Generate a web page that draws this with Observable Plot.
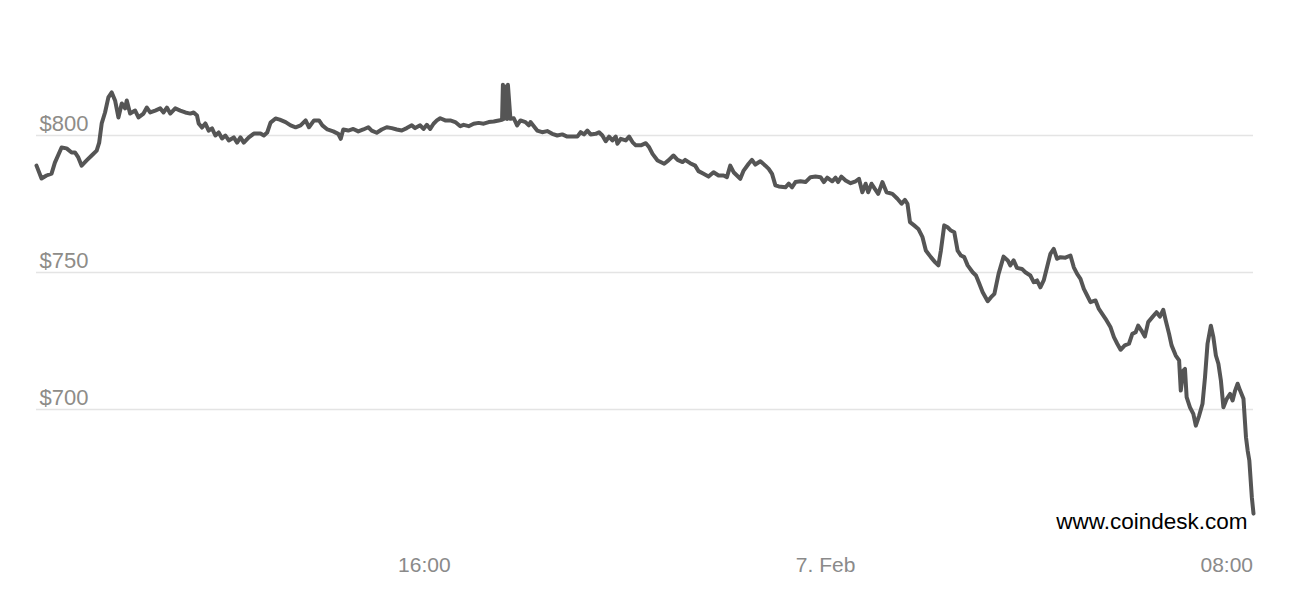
<!DOCTYPE html>
<html>
<head>
<meta charset="utf-8">
<script src="https://cdn.jsdelivr.net/npm/d3@7"></script>
<script src="https://cdn.jsdelivr.net/npm/@observablehq/plot@0.6"></script>
<style>
  html, body { margin: 0; padding: 0; background: #fff; }
  #chart svg { display: block; }
</style>
</head>
<body>
<div id="chart"></div>
<script>
// Bitcoin price (USD), 6–7 Feb 2014 (times in UTC)
const feb6Times = [
  "08:16","08:22","08:28","08:34","08:38","08:46","08:52","08:58","09:02","09:06",
  "09:10","09:16","09:22","09:28","09:31","09:34","09:38","09:42","09:46","09:50",
  "09:54","09:58","10:02","10:04","10:08","10:14","10:18","10:24","10:28","10:32",
  "10:38","10:44","10:48","10:52","10:56","11:02","11:08","11:14","11:20","11:24",
  "11:28","11:30","11:34","11:38","11:42","11:46","11:50","11:54","11:58","12:02",
  "12:06","12:12","12:16","12:20","12:24","12:30","12:36","12:44","12:48","12:52",
  "12:56","13:02","13:07","13:14","13:20","13:26","13:32","13:38","13:42","13:48",
  "13:54","13:58","14:04","14:11","14:17","14:20","14:23","14:29","14:35","14:41",
  "14:47","14:53","14:57","15:03","15:09","15:15","15:21","15:27","15:33","15:39",
  "15:45","15:49","15:55","15:59","16:03","16:07","16:11","16:15","16:19","16:25",
  "16:31","16:37","16:43","16:47","16:53","16:59","17:05","17:11","17:17","17:23",
  "17:29","17:33","17:34","17:35","17:36","17:37","17:38","17:39","17:40","17:43",
  "17:47","17:51","17:55","18:01","18:05","18:07","18:15","18:21","18:27","18:33",
  "18:39","18:45","18:51","18:57","19:03","19:07","19:11","19:15","19:19","19:25",
  "19:29","19:33","19:37","19:41","19:45","19:49","19:51","19:55","20:01","20:05",
  "20:09","20:13","20:19","20:25","20:29","20:33","20:39","20:47","20:52","20:58",
  "21:03","21:09","21:12","21:18","21:24","21:28","21:34","21:40","21:46","21:52",
  "21:58","22:02","22:06","22:10","22:14","22:18","22:22","22:28","22:32","22:36",
  "22:42","22:48","22:52","22:56","23:00","23:04","23:12","23:16","23:20","23:24",
  "23:30","23:36","23:42","23:48","23:54","23:58"
];
const feb6Prices = [
  789.0,784.3,785.4,786.1,790.1,795.6,795.3,793.8,793.8,792.0,
  789.0,790.9,792.7,794.5,797.4,804.4,808.4,813.9,815.7,812.8,
  806.6,811.7,809.9,812.8,808.0,809.1,806.6,808.0,810.2,808.4,
  809.1,809.9,808.4,810.2,808.0,809.9,809.1,808.4,808.0,808.4,
  807.3,804.4,802.9,804.4,801.8,802.6,800.0,801.1,798.9,800.0,
  798.2,799.3,797.4,799.3,797.4,799.3,800.7,800.7,800.0,801.1,
  804.7,806.2,805.8,804.9,803.7,803.0,803.7,805.5,803.0,805.5,
  805.5,803.7,802.2,801.5,800.6,798.8,802.2,801.8,802.4,801.5,
  802.2,803.0,801.8,801.0,802.2,803.0,802.7,802.2,801.8,802.7,
  803.7,802.7,803.7,802.4,803.9,802.4,804.3,805.5,806.3,805.5,
  805.5,804.9,803.4,803.9,803.4,804.3,804.6,804.3,804.9,805.1,
  805.5,805.7,818.5,806.0,818.0,806.5,817.0,806.0,818.5,806.1,
  806.3,803.7,805.5,804.9,803.7,804.9,801.8,801.2,801.6,800.6,
  800.0,800.4,799.6,799.6,799.6,801.2,800.4,801.8,800.4,800.6,
  801.2,800.0,797.9,799.6,798.2,799.6,797.0,798.8,798.2,799.6,
  797.6,796.4,796.4,797.2,795.7,793.3,790.9,789.7,790.9,792.7,
  791.1,790.3,791.1,789.9,789.0,787.0,786.0,785.0,786.6,785.4,
  785.4,784.8,789.0,786.6,785.4,784.2,787.2,789.7,791.1,789.4,
  790.6,789.0,787.8,786.0,781.8,781.4,781.1,782.4,781.1,783.0,
  783.3,783.0,784.8,785.0,784.8,783.0
];
const feb7Times = [
  "00:02","00:08","00:12","00:15","00:19","00:24","00:30","00:36","00:40","00:44",
  "00:48","00:51","00:55","00:59","01:03","01:08","01:13","01:20","01:26","01:31",
  "01:35","01:38","01:41","01:46","01:51","01:56","02:00","02:06","02:11","02:15",
  "02:18","02:22","02:26","02:30","02:34","02:38","02:42","02:46","02:50","02:56",
  "03:00","03:04","03:08","03:14","03:18","03:22","03:27","03:33","03:38","03:41",
  "03:45","03:49","03:55","03:59","04:05","04:09","04:13","04:17","04:21","04:25",
  "04:29","04:33","04:37","04:41","04:47","04:53","04:57","05:01","05:05","05:09",
  "05:13","05:17","05:23","05:27","05:31","05:35","05:41","05:45","05:49","05:53",
  "05:58","06:03","06:07","06:11","06:14","06:18","06:22","06:26","06:31","06:36",
  "06:40","06:44","06:47","06:51","06:54","06:59","07:03","07:05","07:08","07:10",
  "07:12","07:16","07:20","07:23","07:27","07:31","07:34","07:37","07:41","07:44",
  "07:47","07:50","07:53","07:56","08:00","08:04","08:07","08:10","08:13","08:16",
  "08:20","08:23","08:25","08:27","08:30","08:32"
];
const feb7Prices = [
  784.6,783.3,784.6,783.0,785.0,783.6,782.6,783.3,784.2,779.3,
  782.4,779.3,782.4,780.5,778.7,783.0,779.3,778.7,776.9,775.1,
  776.5,775.1,768.4,767.2,765.9,762.9,758.0,755.6,753.8,752.6,
  758.0,767.2,766.5,765.3,764.7,758.0,756.2,755.6,752.6,750.1,
  748.9,745.9,742.8,739.5,741.0,742.2,749.5,755.8,754.4,752.6,
  754.4,751.7,751.3,750.1,748.9,746.5,747.1,744.6,747.1,751.9,
  756.8,758.6,755.0,755.6,755.4,756.2,751.9,749.5,747.7,744.0,
  741.6,739.2,739.8,736.7,734.9,733.1,730.0,726.4,724.0,721.8,
  723.4,724.0,727.6,728.2,730.6,728.8,726.6,731.9,733.7,735.5,
  733.9,736.4,732.5,727.6,723.4,719.7,717.9,706.9,714.2,714.8,
  704.5,700.8,698.4,694.1,697.8,702.1,711.8,724.0,730.6,726.4,
  719.7,716.7,710.6,700.8,703.9,705.7,703.3,706.9,709.4,706.9,
  703.9,689.9,685.0,681.4,668.0,662.0
];

// axis ticks
const yTicks = [700, 750, 800];
const xTickDates = ["2014-02-06T16:00Z", "2014-02-07T00:00Z", "2014-02-07T08:00Z"];
const xTickLabels = ["16:00", "7. Feb", "08:00"];
const creditText = "www.coindesk.com";

// build table
function toDate(day, hm) {
  const [h, m] = hm.split(":").map(Number);
  return new Date(Date.UTC(2014, 1, day, h, m));
}
const data = [
  ...feb6Times.map((t, i) => ({date: toDate(6, t), price: feb6Prices[i]})),
  ...feb7Times.map((t, i) => ({date: toDate(7, t), price: feb7Prices[i]}))
];
const xTicks = xTickDates.map(s => new Date(s));
const labelFor = d => xTickLabels[xTicks.findIndex(t => +t === +d)];

const font = "'Liberation Sans', Arial, Helvetica, sans-serif";

const chart = Plot.plot({
  width: 1298,
  height: 590,
  marginLeft: 36,
  marginRight: 45,
  marginTop: 25.4,
  marginBottom: 44,
  style: {fontFamily: font, background: "#fff", overflow: "visible"},
  x: {type: "utc", axis: null},
  y: {domain: [650, 840], axis: null},
  marks: [
    Plot.ruleY(yTicks, {stroke: "#e4e4e4", strokeWidth: 1.6}),
    Plot.axisY(yTicks, {
      anchor: "left",
      label: null,
      tickSize: 0,
      textAnchor: "start",
      dx: 12,
      dy: -11.5,
      fontSize: 22,
      fill: "#8e8c88",
      tickFormat: d => "$" + d
    }),
    Plot.axisX(xTicks, {
      anchor: "bottom",
      label: null,
      tickSize: 0,
      tickPadding: 11,
      fontSize: 21,
      fill: "#8a8a8a",
      tickFormat: labelFor
    }),
    Plot.lineY(data, {
      x: "date",
      y: "price",
      stroke: "#555555",
      strokeWidth: 4,
      strokeLinejoin: "round",
      strokeLinecap: "round"
    }),
    Plot.text([creditText], {
      frameAnchor: "bottom-right",
      textAnchor: "end",
      lineAnchor: "bottom",
      dx: -6,
      dy: -18,
      fontSize: 22.5,
      fill: "#000"
    })
  ]
});

document.getElementById("chart").appendChild(chart);
</script>
</body>
</html>
